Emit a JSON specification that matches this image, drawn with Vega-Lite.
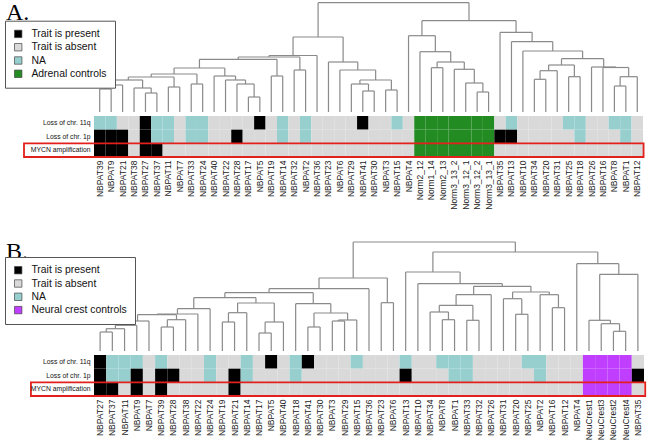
{
"$schema": "https://vega.github.io/schema/vega-lite/v6.json",
"background": "white",
"padding": {"left": 4, "top": 0, "right": 0, "bottom": 0},
"config": {"view": {"stroke": null}},
"spacing": 29,
"resolve": {"scale": {"color": "independent"}, "legend": {"color": "independent"}},
"datasets": {
"dA": [
{"xl":33,"xr":34,"h":20,"hl":0,"hr":0},
{"xl":32,"xr":33.5,"h":29,"hl":0,"hr":20},
{"xl":31,"xr":32.75,"h":42.7,"hl":0,"hr":29},
{"xl":29,"xr":30,"h":44.3,"hl":0,"hr":0},
{"xl":29.5,"xr":31.875,"h":50,"hl":44.3,"hr":42.7},
{"xl":28,"xr":30.688,"h":60.3,"hl":0,"hr":50},
{"xl":27,"xr":29.344,"h":76.3,"hl":0,"hr":60.3},
{"xl":38,"xr":39,"h":32.7,"hl":0,"hr":0},
{"xl":38.5,"xr":40,"h":41.3,"hl":32.7,"hr":0},
{"xl":41,"xr":42,"h":35.3,"hl":0,"hr":0},
{"xl":39.25,"xr":41.5,"h":47,"hl":41.3,"hr":35.3},
{"xl":45,"xr":46,"h":26,"hl":0,"hr":0},
{"xl":45.5,"xr":47,"h":35.3,"hl":26,"hr":0},
{"xl":44,"xr":46.25,"h":44.5,"hl":0,"hr":35.3},
{"xl":43,"xr":45.125,"h":45,"hl":0,"hr":44.5},
{"xl":40.375,"xr":44.063,"h":53.3,"hl":47,"hr":45},
{"xl":37,"xr":42.219,"h":61,"hl":0,"hr":53.3},
{"xl":36,"xr":39.609,"h":70.3,"hl":0,"hr":61},
{"xl":35,"xr":37.805,"h":79.7,"hl":0,"hr":70.3},
{"xl":28.172,"xr":36.402,"h":91.3,"hl":76.3,"hr":79.7},
{"xl":23,"xr":24,"h":21,"hl":0,"hr":0},
{"xl":22,"xr":23.5,"h":28,"hl":0,"hr":21},
{"xl":25,"xr":26,"h":22,"hl":0,"hr":0},
{"xl":22.75,"xr":25.5,"h":32,"hl":28,"hr":22},
{"xl":21,"xr":24.125,"h":42,"hl":0,"hr":32},
{"xl":20,"xr":22.563,"h":50,"hl":0,"hr":42},
{"xl":0,"xr":1,"h":23,"hl":0,"hr":0},
{"xl":0.5,"xr":2,"h":27,"hl":23,"hr":0},
{"xl":4,"xr":5,"h":19,"hl":0,"hr":0},
{"xl":3,"xr":4.5,"h":24,"hl":0,"hr":19},
{"xl":1.25,"xr":3.75,"h":32,"hl":27,"hr":24},
{"xl":6,"xr":7,"h":25,"hl":0,"hr":0},
{"xl":2.5,"xr":6.5,"h":35,"hl":32,"hr":25},
{"xl":8,"xr":9,"h":28,"hl":0,"hr":0},
{"xl":4.5,"xr":8.5,"h":38,"hl":35,"hr":28},
{"xl":13,"xr":14,"h":15,"hl":0,"hr":0},
{"xl":12,"xr":13.5,"h":28,"hl":0,"hr":15},
{"xl":11,"xr":12.75,"h":32,"hl":0,"hr":28},
{"xl":10,"xr":11.875,"h":36,"hl":0,"hr":32},
{"xl":6.5,"xr":10.938,"h":44,"hl":38,"hr":36},
{"xl":15,"xr":16,"h":36,"hl":0,"hr":0},
{"xl":8.719,"xr":15.5,"h":52.7,"hl":44,"hr":36},
{"xl":17,"xr":18,"h":42,"hl":0,"hr":0},
{"xl":12.109,"xr":17.5,"h":55,"hl":52.7,"hr":42},
{"xl":14.805,"xr":19,"h":56.5,"hl":55,"hr":0},
{"xl":16.902,"xr":21.281,"h":75,"hl":56.5,"hr":50},
{"xl":19.092,"xr":32.287,"h":109.3,"hl":75,"hr":91.3}
],
"dB": [
{"xl":28,"xr":29,"h":31.3,"hl":0,"hr":0},
{"xl":27,"xr":28.5,"h":39,"hl":0,"hr":31.3},
{"xl":30,"xr":31,"h":30.7,"hl":0,"hr":0},
{"xl":27.75,"xr":30.5,"h":45.7,"hl":39,"hr":30.7},
{"xl":29.125,"xr":32,"h":56.3,"hl":45.7,"hr":0},
{"xl":34,"xr":35,"h":36.7,"hl":0,"hr":0},
{"xl":33,"xr":34.5,"h":52.3,"hl":0,"hr":36.7},
{"xl":37,"xr":38,"h":43.3,"hl":0,"hr":0},
{"xl":36,"xr":37.5,"h":56.3,"hl":0,"hr":43.3},
{"xl":33.75,"xr":36.75,"h":59,"hl":52.3,"hr":56.3},
{"xl":30.563,"xr":35.25,"h":64.7,"hl":56.3,"hr":59},
{"xl":26,"xr":32.906,"h":67.3,"hl":0,"hr":64.7},
{"xl":25,"xr":29.453,"h":79,"hl":0,"hr":67.3},
{"xl":42,"xr":43,"h":19.7,"hl":0,"hr":0},
{"xl":41,"xr":42.5,"h":27.3,"hl":0,"hr":19.7},
{"xl":40,"xr":41.75,"h":30.7,"hl":0,"hr":27.3},
{"xl":40.875,"xr":44,"h":76.7,"hl":30.7,"hr":0},
{"xl":39,"xr":42.438,"h":87.3,"hl":0,"hr":76.7},
{"xl":27.227,"xr":40.719,"h":99,"hl":79,"hr":87.3},
{"xl":23,"xr":24,"h":48.3,"hl":0,"hr":0},
{"xl":17,"xr":18,"h":24,"hl":0,"hr":0},
{"xl":19,"xr":20,"h":30,"hl":0,"hr":0},
{"xl":19.5,"xr":21,"h":31,"hl":30,"hr":0},
{"xl":17.5,"xr":20.25,"h":38,"hl":24,"hr":31},
{"xl":16,"xr":18.875,"h":47.3,"hl":0,"hr":38},
{"xl":0,"xr":1,"h":19,"hl":0,"hr":0},
{"xl":0.5,"xr":2,"h":22.3,"hl":19,"hr":0},
{"xl":1.25,"xr":3,"h":25.7,"hl":22.3,"hr":0},
{"xl":2.125,"xr":4,"h":30,"hl":25.7,"hr":0},
{"xl":5,"xr":6,"h":24,"hl":0,"hr":0},
{"xl":5.5,"xr":7,"h":31.3,"hl":24,"hr":0},
{"xl":3.063,"xr":6.25,"h":36.3,"hl":30,"hr":31.3},
{"xl":4.656,"xr":8,"h":37,"hl":36.3,"hr":0},
{"xl":6.328,"xr":9,"h":42.3,"hl":37,"hr":0},
{"xl":10,"xr":11,"h":29,"hl":0,"hr":0},
{"xl":10.5,"xr":12,"h":38.3,"hl":29,"hr":0},
{"xl":13,"xr":14,"h":18,"hl":0,"hr":0},
{"xl":13.5,"xr":15,"h":29,"hl":18,"hr":0},
{"xl":11.25,"xr":14.25,"h":48,"hl":38.3,"hr":29},
{"xl":7.664,"xr":12.75,"h":53.3,"hl":42.3,"hr":48},
{"xl":10.207,"xr":17.438,"h":58.3,"hl":53.3,"hr":47.3},
{"xl":13.822,"xr":22,"h":62.3,"hl":58.3,"hr":0},
{"xl":17.911,"xr":23.5,"h":73,"hl":62.3,"hr":48.3},
{"xl":20.706,"xr":33.973,"h":109,"hl":73,"hr":99}
],
"hA": [
{"col":"NBPAT39","q":"N","p":"P","m":"P"},
{"col":"NBPAT9","q":"N","p":"P","m":"P"},
{"col":"NBPAT21","q":"A","p":"P","m":"P"},
{"col":"NBPAT38","q":"A","p":"A","m":"A"},
{"col":"NBPAT27","q":"P","p":"P","m":"P"},
{"col":"NBPAT37","q":"N","p":"N","m":"P"},
{"col":"NBPAT11","q":"N","p":"N","m":"A"},
{"col":"NBPAT7","q":"A","p":"A","m":"A"},
{"col":"NBPAT33","q":"N","p":"N","m":"A"},
{"col":"NBPAT24","q":"N","p":"N","m":"A"},
{"col":"NBPAT40","q":"A","p":"A","m":"A"},
{"col":"NBPAT22","q":"A","p":"A","m":"A"},
{"col":"NBPAT28","q":"A","p":"P","m":"A"},
{"col":"NBPAT17","q":"A","p":"A","m":"A"},
{"col":"NBPAT5","q":"P","p":"A","m":"A"},
{"col":"NBPAT19","q":"A","p":"A","m":"A"},
{"col":"NBPAT14","q":"N","p":"N","m":"A"},
{"col":"NBPAT32","q":"A","p":"A","m":"A"},
{"col":"NBPAT2","q":"N","p":"N","m":"A"},
{"col":"NBPAT36","q":"A","p":"A","m":"A"},
{"col":"NBPAT23","q":"A","p":"A","m":"A"},
{"col":"NBPAT6","q":"A","p":"A","m":"A"},
{"col":"NBPAT29","q":"A","p":"A","m":"A"},
{"col":"NBPAT41","q":"P","p":"A","m":"A"},
{"col":"NBPAT30","q":"A","p":"A","m":"A"},
{"col":"NBPAT3","q":"A","p":"A","m":"A"},
{"col":"NBPAT15","q":"N","p":"A","m":"A"},
{"col":"NBPAT4","q":"A","p":"A","m":"A"},
{"col":"Norm2_12","q":"C","p":"C","m":"C"},
{"col":"Norm1_14","q":"C","p":"C","m":"C"},
{"col":"Norm2_13","q":"C","p":"C","m":"C"},
{"col":"Norm3_13_2","q":"C","p":"C","m":"C"},
{"col":"Norm3_12_1","q":"C","p":"C","m":"C"},
{"col":"Norm3_12_2","q":"C","p":"C","m":"C"},
{"col":"Norm3_13_1","q":"C","p":"C","m":"C"},
{"col":"NBPAT35","q":"A","p":"P","m":"A"},
{"col":"NBPAT13","q":"N","p":"P","m":"A"},
{"col":"NBPAT10","q":"A","p":"A","m":"A"},
{"col":"NBPAT34","q":"A","p":"A","m":"A"},
{"col":"NBPAT20","q":"A","p":"A","m":"A"},
{"col":"NBPAT31","q":"A","p":"A","m":"A"},
{"col":"NBPAT25","q":"N","p":"A","m":"A"},
{"col":"NBPAT18","q":"N","p":"N","m":"A"},
{"col":"NBPAT26","q":"A","p":"A","m":"A"},
{"col":"NBPAT16","q":"A","p":"A","m":"A"},
{"col":"NBPAT8","q":"N","p":"A","m":"A"},
{"col":"NBPAT1","q":"N","p":"N","m":"A"},
{"col":"NBPAT12","q":"A","p":"A","m":"A"}
],
"hB": [
{"col":"NBPAT27","q":"P","p":"P","m":"P"},
{"col":"NBPAT37","q":"N","p":"N","m":"P"},
{"col":"NBPAT11","q":"N","p":"N","m":"A"},
{"col":"NBPAT9","q":"N","p":"P","m":"P"},
{"col":"NBPAT7","q":"A","p":"A","m":"A"},
{"col":"NBPAT39","q":"N","p":"P","m":"P"},
{"col":"NBPAT28","q":"A","p":"P","m":"A"},
{"col":"NBPAT38","q":"A","p":"A","m":"A"},
{"col":"NBPAT22","q":"A","p":"A","m":"A"},
{"col":"NBPAT24","q":"N","p":"N","m":"A"},
{"col":"NBPAT19","q":"A","p":"A","m":"A"},
{"col":"NBPAT21","q":"A","p":"P","m":"P"},
{"col":"NBPAT14","q":"N","p":"N","m":"A"},
{"col":"NBPAT17","q":"A","p":"A","m":"A"},
{"col":"NBPAT5","q":"P","p":"A","m":"A"},
{"col":"NBPAT40","q":"A","p":"A","m":"A"},
{"col":"NBPAT18","q":"N","p":"N","m":"A"},
{"col":"NBPAT41","q":"P","p":"A","m":"A"},
{"col":"NBPAT30","q":"A","p":"A","m":"A"},
{"col":"NBPAT3","q":"A","p":"A","m":"A"},
{"col":"NBPAT29","q":"A","p":"A","m":"A"},
{"col":"NBPAT15","q":"N","p":"A","m":"A"},
{"col":"NBPAT36","q":"A","p":"A","m":"A"},
{"col":"NBPAT23","q":"A","p":"A","m":"A"},
{"col":"NBPAT6","q":"A","p":"A","m":"A"},
{"col":"NBPAT13","q":"N","p":"P","m":"A"},
{"col":"NBPAT10","q":"A","p":"A","m":"A"},
{"col":"NBPAT34","q":"A","p":"A","m":"A"},
{"col":"NBPAT8","q":"N","p":"A","m":"A"},
{"col":"NBPAT1","q":"N","p":"N","m":"A"},
{"col":"NBPAT33","q":"N","p":"N","m":"A"},
{"col":"NBPAT32","q":"A","p":"A","m":"A"},
{"col":"NBPAT26","q":"A","p":"A","m":"A"},
{"col":"NBPAT31","q":"A","p":"A","m":"A"},
{"col":"NBPAT20","q":"A","p":"A","m":"A"},
{"col":"NBPAT25","q":"N","p":"A","m":"A"},
{"col":"NBPAT2","q":"N","p":"N","m":"A"},
{"col":"NBPAT16","q":"A","p":"A","m":"A"},
{"col":"NBPAT12","q":"A","p":"A","m":"A"},
{"col":"NBPAT4","q":"A","p":"A","m":"A"},
{"col":"NeuCrest1","q":"C","p":"C","m":"C"},
{"col":"NeuCrest3","q":"C","p":"C","m":"C"},
{"col":"NeuCrest2","q":"C","p":"C","m":"C"},
{"col":"NeuCrest4","q":"C","p":"C","m":"C"},
{"col":"NBPAT35","q":"A","p":"P","m":"A"}
]
},
"vconcat": [
{
"width": 549, "height": 157,
"resolve": {"scale": {"x": "independent", "y": "independent"}},
"layer": [
{"data": {"name": "dA"},
 "layer": [
  {"mark": {"type": "rule", "color": "#8a8a8a", "strokeWidth": 1.2},
   "encoding": {"x": {"field": "xl", "type": "quantitative", "scale": {"domain": [-0.5, 47.5], "nice": false, "zero": false}, "axis": null},
                "x2": {"field": "xr"},
                "y": {"field": "h", "type": "quantitative", "scale": {"domain": [0, 112], "range": [112, 0], "nice": false, "zero": false}, "axis": null}}},
  {"mark": {"type": "rule", "color": "#8a8a8a", "strokeWidth": 1.2},
   "encoding": {"x": {"field": "xl", "type": "quantitative", "scale": {"domain": [-0.5, 47.5], "nice": false, "zero": false}, "axis": null},
                "y": {"field": "h", "type": "quantitative", "scale": {"domain": [0, 112], "range": [112, 0], "nice": false, "zero": false}, "axis": null},
                "y2": {"field": "hl"}}},
  {"mark": {"type": "rule", "color": "#8a8a8a", "strokeWidth": 1.2},
   "encoding": {"x": {"field": "xr", "type": "quantitative", "scale": {"domain": [-0.5, 47.5], "nice": false, "zero": false}, "axis": null},
                "y": {"field": "h", "type": "quantitative", "scale": {"domain": [0, 112], "range": [112, 0], "nice": false, "zero": false}, "axis": null},
                "y2": {"field": "hr"}}}
 ]},
{"data": {"name": "hA"},
 "transform": [{"fold": ["q", "p", "m"], "as": ["t", "v"]}],
 "mark": {"type": "rect"},
 "encoding": {
  "x": {"field": "col", "type": "nominal", "sort": null, "scale": {"paddingInner": 0, "paddingOuter": 0},
        "axis": {"title": null, "labelAngle": -90, "ticks": false, "domain": false, "labelFont": "Liberation Sans", "labelFontSize": 8.5, "labelColor": "#1a1a1a", "labelPadding": 3, "labelOverlap": false}},
  "y": {"field": "t", "type": "nominal", "scale": {"domain": ["q", "p", "m"], "range": [116, 157], "paddingInner": 0, "paddingOuter": 0},
        "axis": {"title": null, "ticks": false, "domain": false, "labelFont": "Liberation Sans", "labelFontSize": 6.8, "labelColor": "#111", "labelPadding": 4,
                 "labelExpr": "datum.value == 'q' ? 'Loss of chr. 11q' : datum.value == 'p' ? 'Loss of chr. 1p' : 'MYCN amplification'"}},
  "color": {"field": "v", "type": "nominal",
            "scale": {"domain": ["P", "A", "N", "C"], "range": ["#000000", "#d9d9d9", "#97cfcf", "#228b22"]},
            "legend": {"title": null, "orient": "none", "legendX": -89, "legendY": 20.7, "direction": "vertical",
                       "labelExpr": "datum.value == 'P' ? 'Trait is present' : datum.value == 'A' ? 'Trait is absent' : datum.value == 'N' ? 'NA' : 'Adrenal controls'",
                       "symbolType": "square", "symbolSize": 55, "symbolStrokeColor": "#444", "symbolStrokeWidth": 0.7,
                       "labelFont": "Liberation Sans", "labelFontSize": 10.4, "labelColor": "#111",
                       "strokeColor": "#555", "fillColor": "white", "padding": 8, "rowPadding": 2.3, "labelOffset": 8}}
 }},
{"data": {"values": [{"t": "m", "lo": -6.62, "hi": 47.55}]},
 "mark": {"type": "rect", "filled": false, "stroke": "#e3211c", "strokeWidth": 1.8},
 "encoding": {
  "x": {"field": "lo", "type": "quantitative", "scale": {"domain": [-0.5, 47.5], "nice": false, "zero": false}, "axis": null},
  "x2": {"field": "hi"},
  "y": {"field": "t", "type": "nominal", "scale": {"domain": ["q", "p", "m"], "range": [116, 157], "paddingInner": 0, "paddingOuter": 0}, "axis": null}
 }},
{"data": {"values": [{"lab": "A.", "x": -8.2, "h": 99.5}]},
 "mark": {"type": "text", "font": "Liberation Serif", "fontSize": 24, "align": "left", "baseline": "middle", "color": "#000"},
 "encoding": {
  "x": {"field": "x", "type": "quantitative", "scale": {"domain": [-0.5, 47.5], "nice": false, "zero": false}, "axis": null},
  "y": {"field": "h", "type": "quantitative", "scale": {"domain": [0, 112], "range": [112, 0], "nice": false, "zero": false}, "axis": null},
  "text": {"field": "lab"}
 }}
]
},
{
"width": 550, "height": 157,
"resolve": {"scale": {"x": "independent", "y": "independent"}},
"layer": [
{"data": {"name": "dB"},
 "layer": [
  {"mark": {"type": "rule", "color": "#8a8a8a", "strokeWidth": 1.2},
   "encoding": {"x": {"field": "xl", "type": "quantitative", "scale": {"domain": [-0.5, 44.5], "nice": false, "zero": false}, "axis": null},
                "x2": {"field": "xr"},
                "y": {"field": "h", "type": "quantitative", "scale": {"domain": [0, 112], "range": [112, 0], "nice": false, "zero": false}, "axis": null}}},
  {"mark": {"type": "rule", "color": "#8a8a8a", "strokeWidth": 1.2},
   "encoding": {"x": {"field": "xl", "type": "quantitative", "scale": {"domain": [-0.5, 44.5], "nice": false, "zero": false}, "axis": null},
                "y": {"field": "h", "type": "quantitative", "scale": {"domain": [0, 112], "range": [112, 0], "nice": false, "zero": false}, "axis": null},
                "y2": {"field": "hl"}}},
  {"mark": {"type": "rule", "color": "#8a8a8a", "strokeWidth": 1.2},
   "encoding": {"x": {"field": "xr", "type": "quantitative", "scale": {"domain": [-0.5, 44.5], "nice": false, "zero": false}, "axis": null},
                "y": {"field": "h", "type": "quantitative", "scale": {"domain": [0, 112], "range": [112, 0], "nice": false, "zero": false}, "axis": null},
                "y2": {"field": "hr"}}}
 ]},
{"data": {"name": "hB"},
 "transform": [{"fold": ["q", "p", "m"], "as": ["t", "v"]}],
 "mark": {"type": "rect"},
 "encoding": {
  "x": {"field": "col", "type": "nominal", "sort": null, "scale": {"paddingInner": 0, "paddingOuter": 0},
        "axis": {"title": null, "labelAngle": -90, "ticks": false, "domain": false, "labelFont": "Liberation Sans", "labelFontSize": 8.5, "labelColor": "#1a1a1a", "labelPadding": 3, "labelOverlap": false}},
  "y": {"field": "t", "type": "nominal", "scale": {"domain": ["q", "p", "m"], "range": [116, 157], "paddingInner": 0, "paddingOuter": 0},
        "axis": {"title": null, "ticks": false, "domain": false, "labelFont": "Liberation Sans", "labelFontSize": 6.8, "labelColor": "#111", "labelPadding": 4,
                 "labelExpr": "datum.value == 'q' ? 'Loss of chr. 11q' : datum.value == 'p' ? 'Loss of chr. 1p' : 'MYCN amplification'"}},
  "color": {"field": "v", "type": "nominal",
            "scale": {"domain": ["P", "A", "N", "C"], "range": ["#000000", "#d9d9d9", "#97cfcf", "#bf3eff"]},
            "legend": {"title": null, "orient": "none", "legendX": -89, "legendY": 18, "direction": "vertical",
                       "labelExpr": "datum.value == 'P' ? 'Trait is present' : datum.value == 'A' ? 'Trait is absent' : datum.value == 'N' ? 'NA' : 'Neural crest controls'",
                       "symbolType": "square", "symbolSize": 55, "symbolStrokeColor": "#444", "symbolStrokeWidth": 0.7,
                       "labelFont": "Liberation Sans", "labelFontSize": 10.4, "labelColor": "#111",
                       "strokeColor": "#555", "fillColor": "white", "padding": 8, "rowPadding": 2.3, "labelOffset": 8}}
 }},
{"data": {"values": [{"t": "m", "lo": -5.66, "hi": 44.6}]},
 "mark": {"type": "rect", "filled": false, "stroke": "#e3211c", "strokeWidth": 1.8},
 "encoding": {
  "x": {"field": "lo", "type": "quantitative", "scale": {"domain": [-0.5, 44.5], "nice": false, "zero": false}, "axis": null},
  "x2": {"field": "hi"},
  "y": {"field": "t", "type": "nominal", "scale": {"domain": ["q", "p", "m"], "range": [116, 157], "paddingInner": 0, "paddingOuter": 0}, "axis": null}
 }},
{"data": {"values": [{"lab": "B.", "x": -7.7, "h": 99}]},
 "mark": {"type": "text", "font": "Liberation Serif", "fontSize": 24, "align": "left", "baseline": "middle", "color": "#000"},
 "encoding": {
  "x": {"field": "x", "type": "quantitative", "scale": {"domain": [-0.5, 44.5], "nice": false, "zero": false}, "axis": null},
  "y": {"field": "h", "type": "quantitative", "scale": {"domain": [0, 112], "range": [112, 0], "nice": false, "zero": false}, "axis": null},
  "text": {"field": "lab"}
 }}
]
}
]
}
